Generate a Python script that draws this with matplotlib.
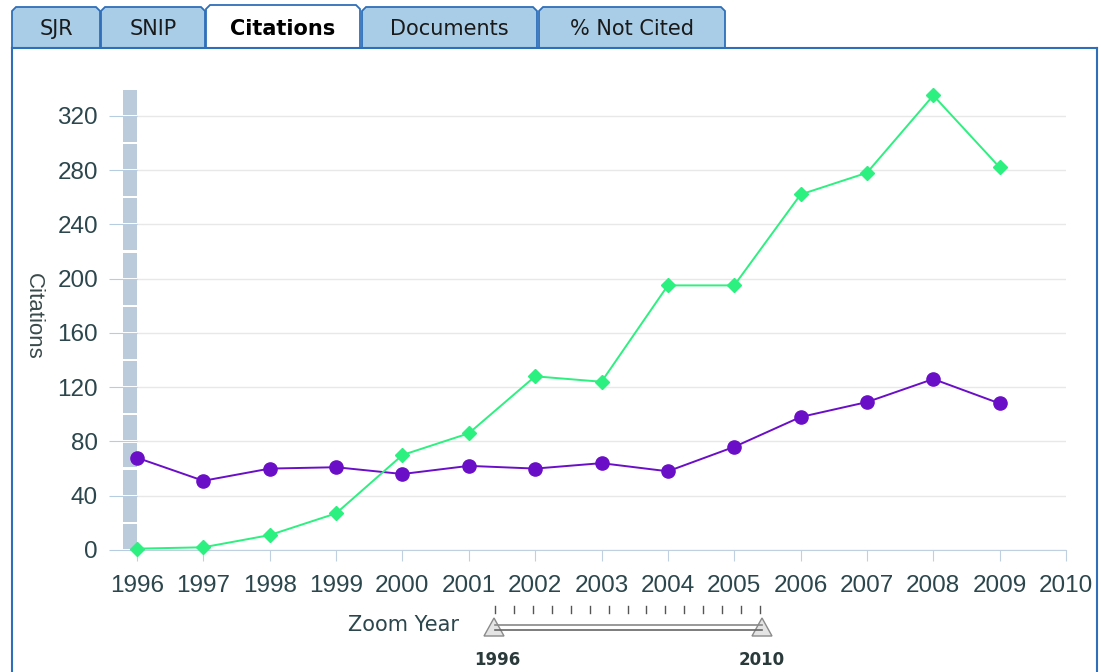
#!/usr/bin/env python3
# plot.py - citations per year, tab panel style

import matplotlib
matplotlib.use("Agg")
import matplotlib.pyplot as plt
from matplotlib.patches import Polygon, Rectangle
from matplotlib.lines import Line2D

# data
years = [1996, 1997, 1998, 1999, 2000, 2001, 2002, 2003, 2004, 2005, 2006, 2007, 2008, 2009]
citations_green = [1, 2, 11, 27, 70, 86, 128, 124, 195, 195, 262, 278, 335, 282]
citations_purple = [68, 51, 60, 61, 56, 62, 60, 64, 58, 76, 98, 109, 126, 108]
year_ticks = list(range(1996, 2011))
y_ticks = [0, 40, 80, 120, 160, 200, 240, 280, 320]
tab_names = ["SJR", "SNIP", "Citations", "Documents", "% Not Cited"]

W, H = 1101, 672
TEXT = "#2b464c"
ARIAL = "Liberation Sans"


def fx(px):
    return px / W


def fy(py):
    return 1 - py / H


def pts(coords):
    return [(fx(x), fy(y)) for x, y in coords]


fig = plt.figure(figsize=(W / 100, H / 100), dpi=100)
fig.patch.set_facecolor("white")

# panel frame
frame_col = "#2f6fba"
fig.add_artist(Line2D([fx(12), fx(12)], [fy(48), fy(680)], color=frame_col, lw=1.5))
fig.add_artist(Line2D([fx(1097), fx(1097)], [fy(48), fy(680)], color=frame_col, lw=1.5))
fig.add_artist(Line2D([fx(12), fx(1097)], [fy(48), fy(48)], color=frame_col, lw=1.5))

# tabs
tab_x = [(12, 100), (101, 205), (206, 360), (362, 537), (539, 725)]
for name, (x0, x1) in zip(tab_names, tab_x):
    active = name == "Citations"
    top = 5 if active else 7
    bot = 49 if active else 48
    poly = Polygon(pts([(x0, bot), (x0, top + 4), (x0 + 4, top), (x1 - 4, top),
                        (x1, top + 4), (x1, bot)]),
                   closed=False, transform=fig.transFigure,
                   facecolor="white" if active else "#a9cde6",
                   edgecolor=frame_col, lw=1.3)
    fig.add_artist(poly)
    fig.text(fx((x0 + x1) / 2), fy(29), name, ha="center", va="center",
             fontsize=15, color="black" if active else "#1a1a1a",
             fontweight="bold" if active else "normal")

# main chart
ax = fig.add_axes([fx(137), fy(550), fx(1066) - fx(137), fy(90) - fy(550)])
ax.set_xlim(1996, 2010)
ax.set_ylim(0, 339)
ax.set_yticks(y_ticks)
ax.set_xticks(year_ticks)
ax.grid(axis="y", color="#e8e8e8", lw=1)
ax.set_axisbelow(True)
for s in ["top", "right", "left"]:
    ax.spines[s].set_visible(False)
ax.spines["bottom"].set_color("#c0d0e0")
ax.tick_params(axis="x", colors="#c0d0e0", labelcolor=TEXT, labelsize=17.5,
               length=8, pad=10)
ax.tick_params(axis="y", colors="#b8cce0", labelcolor=TEXT, labelsize=17.5,
               length=20, pad=8)
for lab in ax.get_xticklabels() + ax.get_yticklabels():
    lab.set_family(ARIAL)
ax.set_ylabel("Citations", rotation=-90, fontsize=16, color="#3a4a4a",
              family=ARIAL, va="center", ha="center")
ax.yaxis.set_label_coords((33 - 137) / (1066 - 137), (550 - 316) / 460)

# grey navigator band left of the plot
band_w = 14 / ((1066 - 137) / 14)
for y0 in range(0, 340, 20):
    ax.add_patch(Rectangle((1996 - band_w, y0 + 0.8), band_w, 18.4,
                           facecolor="#bccbdc", edgecolor="none",
                           clip_on=False, zorder=3))

ax.plot(years, citations_purple, color="#6b0ec8", lw=1.4, marker="o",
        markersize=9.5, zorder=4, clip_on=False)
ax.plot(years, citations_green, color="#2cf07f", lw=1.4, marker="D",
        markersize=7, zorder=5, clip_on=False)

# zoom slider under the chart
fig.text(fx(403), fy(625), "Zoom Year", ha="center", va="center",
         fontsize=15, color=TEXT)
for i in range(15):
    xt = 495 + i * (760 - 495) / 14
    fig.add_artist(Line2D([fx(xt), fx(xt)], [fy(606), fy(613)], color="#555555", lw=1))
fig.add_artist(Line2D([fx(495), fx(762)], [fy(625), fy(625)], color="#888888", lw=1.2))
fig.add_artist(Line2D([fx(495), fx(762)], [fy(630), fy(630)], color="#666666", lw=1.2))
for xc in (494, 762):
    fig.add_artist(Polygon(pts([(xc - 10, 636), (xc, 618), (xc + 10, 636)]),
                           closed=True, transform=fig.transFigure,
                           facecolor="#e4e4e4", edgecolor="#8a8a8a", lw=1))
fig.text(fx(497), fy(660), "1996", ha="center", va="center", fontsize=12,
         fontweight="bold", color="#2a3a3a")
fig.text(fx(762), fy(660), "2010", ha="center", va="center", fontsize=12,
         fontweight="bold", color="#2a3a3a")

fig.savefig("out.png", dpi=100, facecolor="white")
